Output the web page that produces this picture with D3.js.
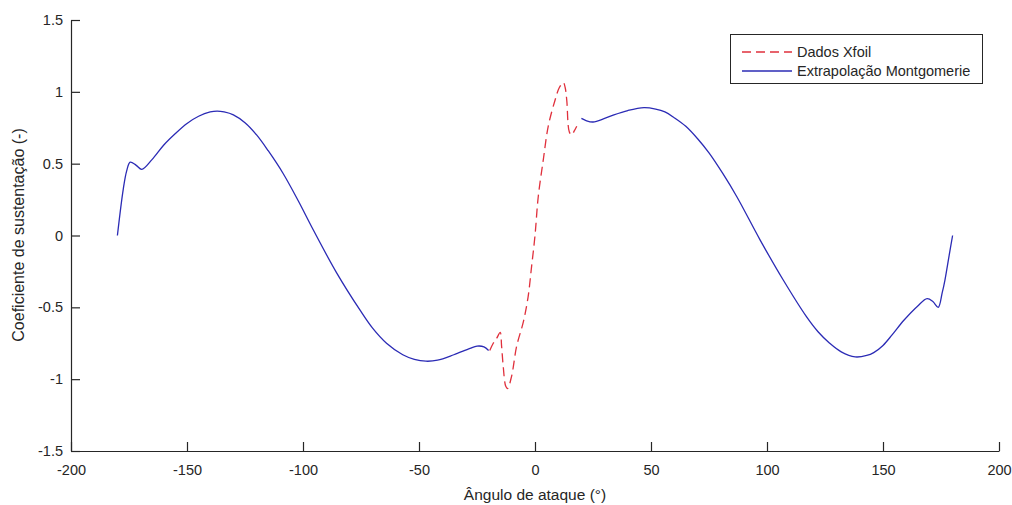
<!DOCTYPE html>
<html>
<head>
<meta charset="utf-8">
<script src="https://cdn.jsdelivr.net/npm/d3@7"></script>
<style>
  body { margin: 0; background: #fff; }
  text { font-family: "Liberation Sans", Arial, Helvetica, sans-serif; fill: #262626; }
</style>
</head>
<body>
<script>
var width = 1012, height = 505;

// Dados Xfoil (angulo, cl)
var xfoilAlpha = [-19.5, -18, -16.5, -15, -14.4, -13.7, -12.6, -11.8, -10.1, -7.9, -5, -3, -1.5, 0,
                  1.4, 3.6, 5.7, 8.6, 10.5, 12.2, 13, 13.7, 14.8, 15.8, 17, 18];
var xfoilCl    = [-0.80, -0.75, -0.715, -0.675, -0.77, -0.91, -1.05, -1.065, -0.98, -0.77, -0.60, -0.43, -0.22, 0.0,
                  0.27, 0.53, 0.76, 0.94, 1.03, 1.065, 1.03, 0.94, 0.72, 0.70, 0.73, 0.76];

// Extrapolacao Montgomerie, lado negativo
var montNegAlpha = [-180, -177.5, -176, -174.5, -172, -169.5, -165, -160, -155, -150, -145, -140, -137, -134,
                    -130, -125, -120, -115, -108.5, -102, -95.6, -85.5, -75.4, -70, -64, -57, -52, -47,
                    -42, -35, -28, -25, -22, -20];
var montNegCl    = [0, 0.32, 0.45, 0.51, 0.49, 0.46, 0.53, 0.63, 0.71, 0.78, 0.83, 0.86, 0.866, 0.86,
                    0.84, 0.785, 0.70, 0.59, 0.43, 0.24, 0.04, -0.26, -0.52, -0.645, -0.75, -0.83, -0.862, -0.875,
                    -0.868, -0.83, -0.785, -0.77, -0.775, -0.80];

// Extrapolacao Montgomerie, lado positivo
var montPosAlpha = [20, 22, 25, 30, 34, 40, 47, 52, 56, 60, 65, 70, 75, 81, 87, 97, 107, 117, 122, 127,
                    132, 138, 143, 146, 150, 154, 159, 165, 169, 171.5, 173.8, 175.5, 176.7, 178.5, 180];
var montPosCl    = [0.815, 0.80, 0.79, 0.815, 0.84, 0.87, 0.89, 0.88, 0.86, 0.82, 0.76, 0.675, 0.575, 0.43, 0.27,
                    -0.03, -0.31, -0.565, -0.67, -0.75, -0.81, -0.845, -0.835, -0.815, -0.765, -0.69, -0.59,
                    -0.49, -0.44, -0.46, -0.50, -0.40, -0.31, -0.14, 0];

var xTicks = [-200, -150, -100, -50, 0, 50, 100, 150, 200];
var yTicks = [-1.5, -1, -0.5, 0, 0.5, 1, 1.5];

var svg = d3.select("body").append("svg")
    .attr("width", width)
    .attr("height", height);

var x = d3.scaleLinear().domain([-200, 200]).range([71, 999]);
var y = d3.scaleLinear().domain([-1.5, 1.5]).range([451, 20]);

var fontSize = "14.5px";

// eixo x
svg.append("g")
    .attr("transform", "translate(0," + y(-1.5) + ")")
    .call(d3.axisBottom(x).tickValues(xTicks).tickSizeInner(-9).tickSizeOuter(0).tickPadding(14)
        .tickFormat(function(d) { return String(d); }));

// eixo y
svg.append("g")
    .attr("transform", "translate(" + x(-200) + ",0)")
    .call(d3.axisLeft(y).tickValues(yTicks).tickSizeInner(-9).tickSizeOuter(0).tickPadding(8)
        .tickFormat(function(d) { return String(d); }));

svg.selectAll(".domain, .tick line").attr("stroke", "#262626").attr("stroke-width", 1.2);
svg.selectAll(".tick text").style("font-size", fontSize).style("font-family", null).attr("fill", "#262626");

// rotulos
svg.append("text")
    .attr("x", 535)
    .attr("y", 500)
    .attr("text-anchor", "middle")
    .style("font-size", "15.5px")
    .text("Ângulo de ataque (°)");

svg.append("text")
    .attr("transform", "translate(24,235) rotate(-90)")
    .attr("text-anchor", "middle")
    .style("font-size", "16px")
    .text("Coeficiente de sustentação (-)");

function toPts(a, c) {
    return a.map(function(v, i) { return [v, c[i]]; });
}

var line = d3.line()
    .x(function(d) { return x(d[0]); })
    .y(function(d) { return y(d[1]); })
    .curve(d3.curveCatmullRom.alpha(0.5));

var blue = "#2b2bb5", red = "#e0303c";

svg.append("path")
    .attr("d", line(toPts(montNegAlpha, montNegCl)))
    .attr("fill", "none").attr("stroke", blue).attr("stroke-width", 1.3);

svg.append("path")
    .attr("d", line(toPts(montPosAlpha, montPosCl)))
    .attr("fill", "none").attr("stroke", blue).attr("stroke-width", 1.3);

svg.append("path")
    .attr("d", line(toPts(xfoilAlpha, xfoilCl)))
    .attr("fill", "none").attr("stroke", red).attr("stroke-width", 1.3)
    .attr("stroke-dasharray", "9,5");

// legenda
var lg = svg.append("g");
lg.append("rect")
    .attr("x", 730.5).attr("y", 34.5)
    .attr("width", 252).attr("height", 49)
    .attr("fill", "#fff").attr("stroke", "#262626").attr("stroke-width", 1);

var items = [
    { name: "Dados Xfoil", color: red, dash: "9,5" },
    { name: "Extrapolação Montgomerie", color: blue, dash: null }
];

items.forEach(function(it, i) {
    var cy = 52 + i * 19;
    lg.append("line")
        .attr("x1", 742).attr("x2", 792)
        .attr("y1", cy).attr("y2", cy)
        .attr("stroke", it.color).attr("stroke-width", 1.3)
        .attr("stroke-dasharray", it.dash);
    lg.append("text")
        .attr("x", 797).attr("y", cy)
        .attr("dy", "0.35em")
        .style("font-size", fontSize)
        .text(it.name);
});
</script>
</body>
</html>
